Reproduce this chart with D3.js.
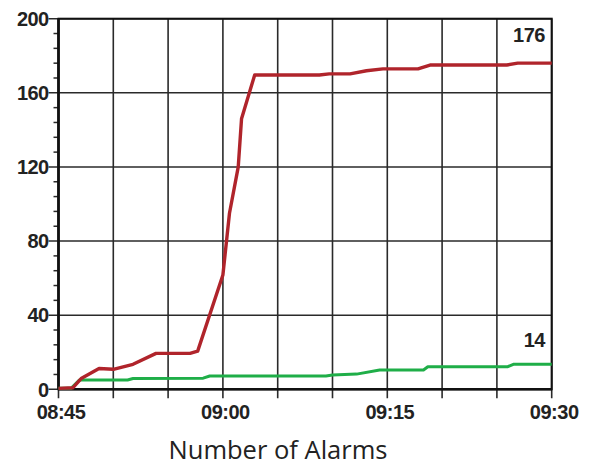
<!DOCTYPE html>
<html>
<head>
<meta charset="utf-8">
<script src="https://cdn.jsdelivr.net/npm/d3@7"></script>
<style>
  html, body { margin: 0; padding: 0; background: #fff; }
  svg { display: block; }
</style>
</head>
<body>
<div id="chart"></div>
<script>
// time stamps and values
const redTimes = ["08:45:00", "08:46:18", "08:47:04", "08:48:42", "08:50:00", "08:51:48", "08:53:54",
  "08:57:00", "08:57:42", "09:00:00", "09:00:36", "09:01:24", "09:01:42", "09:02:54", "09:08:48",
  "09:09:42", "09:11:36", "09:13:06", "09:14:36", "09:17:48", "09:18:54", "09:25:54", "09:26:54", "09:30:00"];
const redValues = [0.5, 0.8, 5.8, 11.2, 10.8, 13.5, 19.4,
  19.4, 20.6, 61.7, 95, 120, 146, 169.6, 169.6,
  170.2, 170.2, 171.9, 172.9, 172.9, 175, 175, 176, 176];

const greenTimes = ["08:45:00", "08:46:09", "08:46:54", "08:51:18", "08:51:48", "08:58:12", "08:58:48",
  "09:09:24", "09:10:00", "09:12:12", "09:14:18", "09:18:18", "09:18:42", "09:26:00", "09:26:30", "09:30:00"];
const greenValues = [0.5, 0.5, 5, 5, 5.8, 6, 7.2,
  7.2, 7.7, 8.2, 10.4, 10.4, 12.2, 12.2, 13.5, 13.5];

const yTicks = [0, 40, 80, 120, 160, 200];
const xTickLabels = ["08:45", "09:00", "09:15", "09:30"];
const endLabels = ["176", "14"];
const title = "Number of Alarms";

const width = 590, height = 467;
const plotLeft = 58.5, plotRight = 551.7, plotTop = 18.7, plotBottom = 389.3;

const parse = d3.timeParse("%H:%M:%S");
const parseHM = d3.timeParse("%H:%M");

const svg = d3.select("#chart").append("svg")
  .attr("width", width)
  .attr("height", height);

const x = d3.scaleTime()
  .domain([parse("08:45:00"), parse("09:30:00")])
  .range([plotLeft, plotRight]);

const y = d3.scaleLinear()
  .domain([0, 200])
  .range([plotBottom, plotTop]);

const gridTimes = d3.timeMinute.every(5).range(parse("08:45:00"), parse("09:30:01"));

// grid
const grid = svg.append("g").attr("stroke", "#2a2a2a").attr("stroke-width", 1.6);
grid.selectAll("line.v").data(gridTimes).enter().append("line")
  .attr("x1", d => x(d)).attr("x2", d => x(d))
  .attr("y1", plotTop).attr("y2", plotBottom + 9);
grid.selectAll("line.h").data(yTicks).enter().append("line")
  .attr("x1", plotLeft - 10).attr("x2", plotRight)
  .attr("y1", d => y(d)).attr("y2", d => y(d));

// minor y ticks
const minor = d3.range(0, 200, 8).filter(v => v % 40 !== 0);
svg.append("g").attr("stroke", "#2a2a2a").attr("stroke-width", 1.5)
  .selectAll("line").data(minor).enter().append("line")
  .attr("x1", plotLeft - 5).attr("x2", plotLeft)
  .attr("y1", d => y(d)).attr("y2", d => y(d));

// frame
svg.append("rect")
  .attr("x", plotLeft).attr("y", plotTop)
  .attr("width", plotRight - plotLeft).attr("height", plotBottom - plotTop)
  .attr("fill", "none").attr("stroke", "#111").attr("stroke-width", 2);
svg.append("line").attr("x1", plotLeft).attr("x2", plotLeft).attr("y1", plotTop).attr("y2", plotBottom)
  .attr("stroke", "#111").attr("stroke-width", 2.6);
svg.append("line").attr("x1", plotLeft).attr("x2", plotRight).attr("y1", plotBottom).attr("y2", plotBottom)
  .attr("stroke", "#111").attr("stroke-width", 2.6);

// series
const line = d3.line().x(d => x(d.t)).y(d => y(d.v));
const redData = redTimes.map((t, i) => ({ t: parse(t), v: redValues[i] }));
const greenData = greenTimes.map((t, i) => ({ t: parse(t), v: greenValues[i] }));

svg.append("path").datum(greenData)
  .attr("d", line).attr("fill", "none")
  .attr("stroke", "#1fae48").attr("stroke-width", 3)
  .attr("stroke-linejoin", "round");
svg.append("path").datum(redData)
  .attr("d", line).attr("fill", "none")
  .attr("stroke", "#b0242b").attr("stroke-width", 3.4)
  .attr("stroke-linejoin", "round");

// axis labels
const labelFont = "'Liberation Sans', Arial, sans-serif";
svg.append("g").selectAll("text").data(yTicks).enter().append("text")
  .attr("x", plotLeft - 10).attr("y", d => y(d))
  .attr("dy", "0.36em")
  .attr("text-anchor", "end")
  .attr("font-family", labelFont).attr("font-weight", "bold").attr("font-size", 20)
  .attr("letter-spacing", -0.6)
  .attr("fill", "#222")
  .text(d => d);

svg.append("g").selectAll("text").data(xTickLabels).enter().append("text")
  .attr("x", d => x(parseHM(d)) + 2.5).attr("y", plotBottom + 30)
  .attr("text-anchor", "middle")
  .attr("font-family", labelFont).attr("font-weight", "bold").attr("font-size", 20)
  .attr("letter-spacing", -0.5)
  .attr("fill", "#222")
  .text(d => d);

// end values
const endPoints = [
  { label: endLabels[0], v: redValues[redValues.length - 1], dy: -21 },
  { label: endLabels[1], v: greenValues[greenValues.length - 1], dy: -17 }
];
svg.append("g").selectAll("text").data(endPoints).enter().append("text")
  .attr("x", plotRight - 7).attr("y", d => y(d.v) + d.dy)
  .attr("text-anchor", "end")
  .attr("font-family", labelFont).attr("font-weight", "bold").attr("font-size", 20)
  .attr("letter-spacing", -0.6)
  .attr("fill", "#222")
  .text(d => d.label);

// title
svg.append("text")
  .attr("x", 278).attr("y", 459)
  .attr("text-anchor", "middle")
  .attr("font-family", "'Open Sans', Lato, sans-serif")
  .attr("font-size", 25.5)
  .attr("fill", "#222")
  .text(title);
</script>
</body>
</html>
